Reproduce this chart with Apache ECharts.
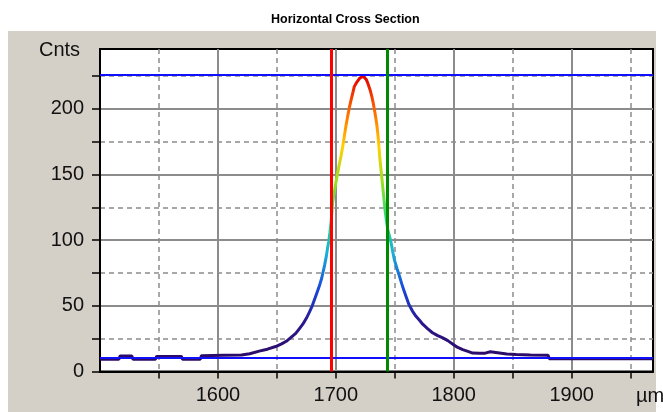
<!DOCTYPE html>
<html>
<head>
<meta charset="utf-8">
<script src="https://cdn.jsdelivr.net/npm/echarts@6/dist/echarts.min.js"></script>
<style>
  html, body { margin: 0; padding: 0; background: #ffffff; }
  #chart { width: 663px; height: 412px; }
</style>
</head>
<body>
<div id="chart"></div>
<script>
// Horizontal cross section profile: position (µm) and counts
const positions = [
  1500, 1516, 1517, 1527, 1528, 1547, 1548, 1569, 1570, 1585,
  1586, 1605, 1620, 1627, 1635, 1642, 1649, 1654, 1658, 1662,
  1666, 1669, 1672, 1675, 1677.5, 1680, 1682, 1684, 1686, 1688,
  1689, 1690.5, 1692, 1693, 1694, 1695, 1696, 1697.3, 1699.5, 1701.5,
  1703, 1704.4, 1706, 1707.2, 1708.6, 1710, 1711.5, 1713, 1714.5, 1715.7,
  1718, 1720, 1721.5, 1723, 1724.5, 1726, 1727.5, 1729, 1730.5, 1731.8,
  1733.2, 1734.6, 1735.5, 1736.3, 1737.5, 1738.9, 1740.3, 1742, 1744, 1745.5,
  1746.9, 1748.3, 1749.7, 1752, 1754, 1756, 1758, 1760, 1762, 1765,
  1768, 1771, 1773.7, 1778, 1782, 1786, 1790.7, 1795, 1799, 1803,
  1807.6, 1812, 1816, 1822, 1826, 1827, 1831, 1832, 1845, 1853,
  1865, 1880, 1881, 1969
];
const counts = [
  9.3, 9.3, 11.8, 11.8, 9.3, 9.3, 11.5, 11.5, 9.3, 9.3,
  12, 12.3, 12.5, 13.5, 15.5, 17, 19, 21, 23, 26,
  29, 32.5, 36, 40.5, 45, 50, 55, 60, 65, 71,
  75, 81, 88, 94, 99, 106, 114, 128.5, 141, 151,
  158, 164, 172, 179, 187, 194, 201, 207, 212.5, 217,
  220.5, 223, 224.5, 225, 224, 222, 218.5, 214.5, 209.5, 204,
  197, 189, 182, 174, 161, 148.5, 136, 121, 108, 103,
  98, 91, 85, 78, 72.5, 66.5, 61, 56, 51, 46,
  42, 39, 36, 32.5, 29.5, 27.5, 25.6, 23.5, 21, 18.5,
  16.7, 15.3, 14, 13.8, 13.8, 15, 15, 13.7, 13.3, 13,
  12.6, 12.4, 9.8, 9.8
];

// Axis ticks
const xMajorTicks = [1600, 1700, 1800, 1900];
const xMinorTicks = [1550, 1650, 1750, 1850, 1950];
const yMajorTicks = [0, 50, 100, 150, 200];
const yMinorTicks = [25, 75, 125, 175, 225];

// Cursor positions (µm) and level markers (counts)
const cursorLeft = 1696.5;
const cursorRight = 1743.5;
const levelHigh = 226;
const levelLow = 10.5;

const X_MIN = 1500, X_MAX = 1969;
const Y_MIN = 0, Y_MAX = 245.5;

const FONT = 'Liberation Sans, Arial, sans-serif';
const GRID_GRAY = '#8c8c8c';
const plain = v => String(v);

const chart = echarts.init(document.getElementById('chart'), null, { renderer: 'canvas' });

const majorX = {
  type: 'value', min: X_MIN, max: X_MAX, interval: 100, position: 'bottom',
  axisLine: { show: true, onZero: false, lineStyle: { color: '#000', width: 2 } },
  axisTick: { show: true, inside: false, length: 7, customValues: xMajorTicks, lineStyle: { color: '#000', width: 1.5 } },
  axisLabel: { customValues: xMajorTicks, formatter: plain, margin: 14, color: '#111', fontSize: 20, fontFamily: FONT },
  splitLine: { show: true, lineStyle: { color: GRID_GRAY, width: 2, type: 'solid' } }
};
const minorX = {
  type: 'value', min: X_MIN, max: X_MAX, interval: 50, position: 'bottom',
  axisLine: { show: false, onZero: false },
  axisTick: { show: true, inside: false, length: 7, customValues: xMinorTicks, lineStyle: { color: '#000', width: 1.5 } },
  axisLabel: { show: false },
  splitLine: { show: true, lineStyle: { color: GRID_GRAY, width: 1.5, type: [5, 4] } }
};
const majorY = {
  type: 'value', min: Y_MIN, max: Y_MAX, interval: 50, position: 'left',
  axisLine: { show: true, onZero: false, lineStyle: { color: '#000', width: 2 } },
  axisTick: { show: true, inside: false, length: 8, customValues: yMajorTicks, lineStyle: { color: '#000', width: 1.5 } },
  axisLabel: { customValues: yMajorTicks, formatter: plain, margin: 16, color: '#111', fontSize: 20, fontFamily: FONT },
  splitLine: { show: true, lineStyle: { color: GRID_GRAY, width: 2, type: 'solid' } }
};
const minorY = {
  type: 'value', min: Y_MIN, max: Y_MAX, interval: 25, position: 'left',
  axisLine: { show: false, onZero: false },
  axisTick: { show: true, inside: false, length: 8, customValues: yMinorTicks, lineStyle: { color: '#000', width: 1.5 } },
  axisLabel: { show: false },
  splitLine: { show: true, lineStyle: { color: GRID_GRAY, width: 1.5, type: [5, 4] } }
};

const option = {
  animation: false,
  backgroundColor: '#ffffff',
  title: {
    text: 'Horizontal Cross Section',
    left: 266, top: 8,
    textStyle: { fontSize: 12.5, fontWeight: 'bold', color: '#000', fontFamily: FONT }
  },
  graphic: [
    { type: 'rect', z: -100, silent: true, shape: { x: 8, y: 31, width: 648, height: 381 }, style: { fill: '#d4d0c8' } },
    { type: 'text', silent: true, style: { x: 39, y: 50, text: 'Cnts', font: '20px ' + FONT, fill: '#111', textAlign: 'left', textVerticalAlign: 'middle' } },
    { type: 'text', silent: true, style: { x: 636, y: 386, text: 'µm', font: '20px ' + FONT, fill: '#111', textAlign: 'left', textVerticalAlign: 'top' } }
  ],
  grid: {
    left: 100, top: 49, right: 10, bottom: 40.5,
    show: true, backgroundColor: '#ffffff', borderColor: '#000', borderWidth: 2
  },
  xAxis: [minorX, majorX],
  yAxis: [minorY, majorY],
  visualMap: {
    type: 'continuous', show: false, seriesIndex: 0, dimension: 1,
    min: 9, max: 225,
    inRange: {
      color: ['#2d0b63', '#2a168c', '#1a48d8', '#18b0d8', '#28d878', '#98e020', '#ffd000', '#ff6a00', '#e00000']
    }
  },
  series: [
    {
      name: 'profile', type: 'line', xAxisIndex: 1, yAxisIndex: 1,
      data: positions.map((p, i) => [p, counts[i]]),
      showSymbol: false, symbol: 'none', silent: true, z: 3,
      lineStyle: { width: 3 }
    },
    {
      name: 'levels', type: 'line', xAxisIndex: 1, yAxisIndex: 1, data: [], z: 2, silent: true,
      markLine: {
        silent: true, symbol: 'none', animation: false, label: { show: false },
        data: [
          { yAxis: levelHigh, lineStyle: { color: '#1010ff', width: 2, type: 'solid' } },
          { yAxis: levelLow, lineStyle: { color: '#1010ff', width: 2, type: 'solid' } }
        ]
      }
    },
    {
      name: 'cursors', type: 'line', xAxisIndex: 1, yAxisIndex: 1, data: [], z: 4, silent: true,
      markLine: {
        silent: true, symbol: 'none', animation: false, label: { show: false },
        data: [
          { xAxis: cursorLeft, lineStyle: { color: '#ff0000', width: 3, type: 'solid' } },
          { xAxis: cursorRight, lineStyle: { color: '#008a00', width: 3, type: 'solid' } }
        ]
      }
    }
  ]
};

chart.setOption(option);
</script>
</body>
</html>
